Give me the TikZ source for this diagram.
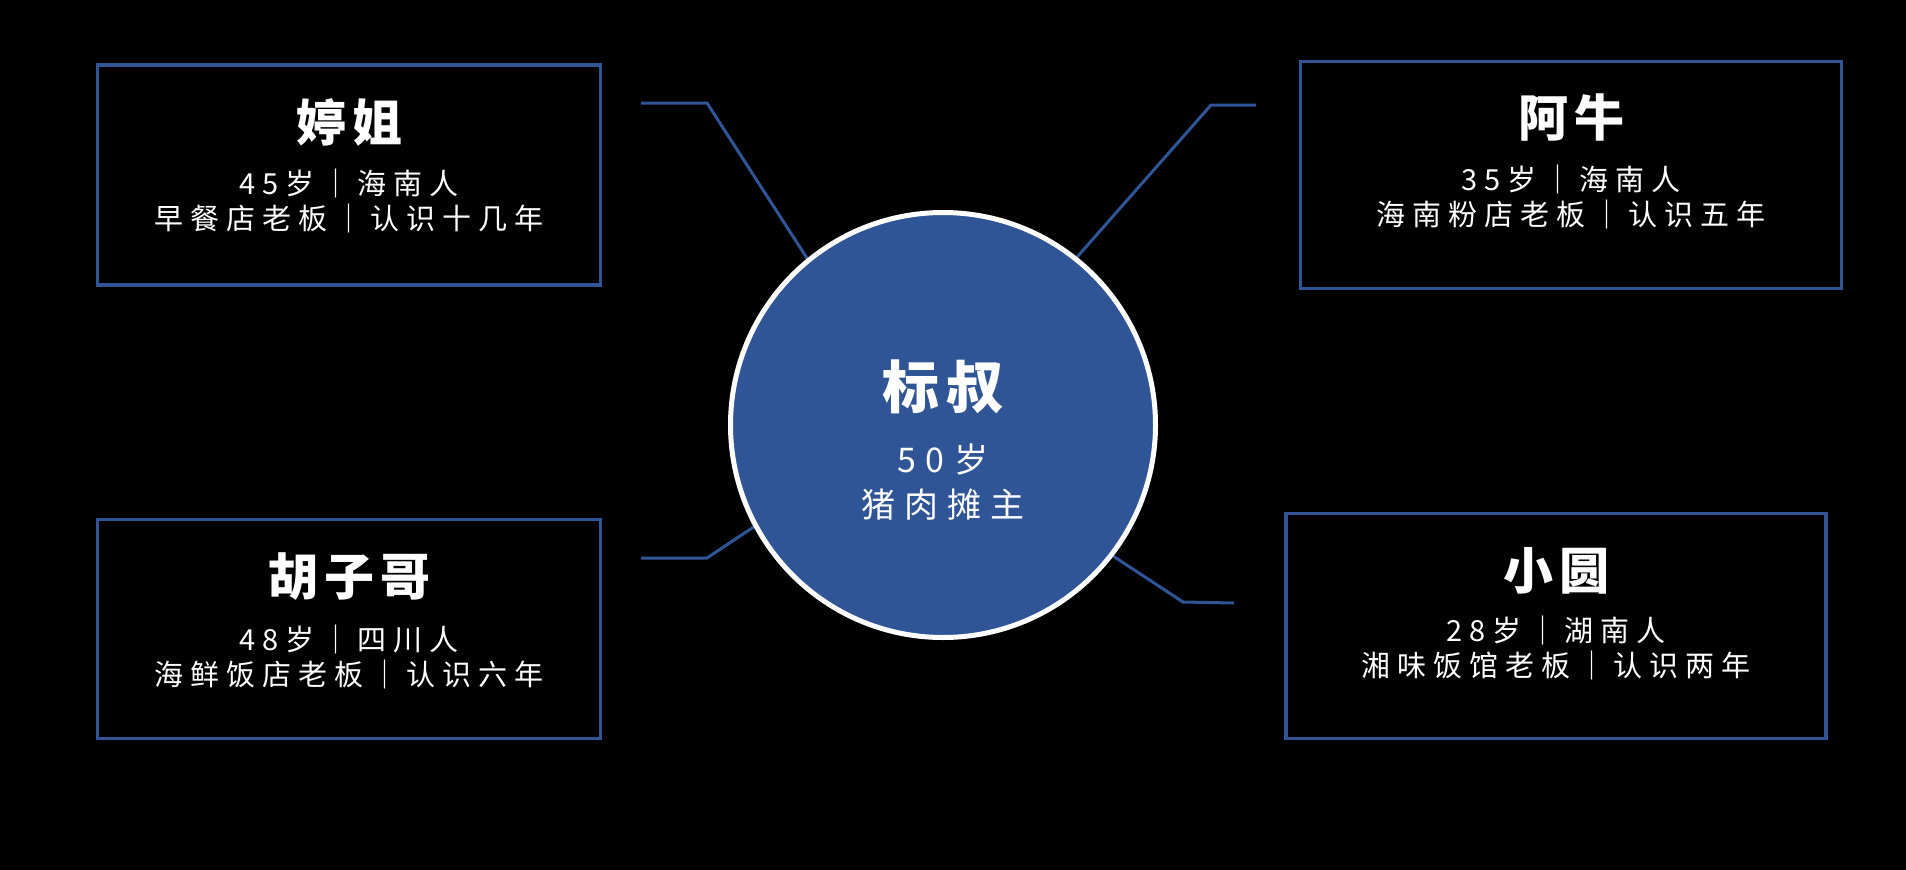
\documentclass[tikz,border=0pt]{standalone}
\usepackage{fontspec}
\usetikzlibrary{calc}
\setmainfont{Noto Sans CJK SC}
\definecolor{myblue}{RGB}{47,85,151}
\tikzset{
  card/.style={draw=myblue, line width=3.5pt, fill=black, inner sep=0pt},
  link/.style={draw=myblue, line width=3pt},
  ttl/.style={text=white, font=\bfseries\fontsize{50}{60}\selectfont\addfontfeature{LetterSpace=12}},
  sub/.style={text=white, align=center, font=\fontsize{29}{35}\selectfont\addfontfeature{LetterSpace=24}},
  cttl/.style={text=white, font=\bfseries\fontsize{57}{66}\selectfont\addfontfeature{LetterSpace=12}},
  csub/.style={text=white, align=center, font=\fontsize{34}{45}\selectfont\addfontfeature{LetterSpace=27}},
}
\begin{document}
\begin{tikzpicture}[x=1pt,y=-1pt]
\fill[black] (0,0) rectangle (1906,870);
\useasboundingbox (0,0) rectangle (1906,870);
% boxes
\node[card, minimum width=503pt, minimum height=220pt] (b1) at (349,175) {};
\node[card, minimum width=541pt, minimum height=227pt] (b2) at (1571,175) {};
\node[card, minimum width=503pt, minimum height=219pt] (b3) at (349,629) {};
\node[card, minimum width=540pt, minimum height=225pt] (b4) at (1556,626) {};
% box texts
\node[ttl] (t1) at (349,122) {婷姐};
\node[sub] (s1) at (349,201) {45岁｜海南人\\早餐店老板｜认识十几年};
\node[ttl] (t2) at (1571,118) {阿牛};
\node[sub] (s2) at (1571,197) {35岁｜海南人\\海南粉店老板｜认识五年};
\node[ttl] (t3) at (349,577) {胡子哥};
\node[sub] (s3) at (349,657) {48岁｜四川人\\海鲜饭店老板｜认识六年};
\node[ttl] (t4) at (1556,571) {小圆};
\node[sub] (s4) at (1556,648) {28岁｜湖南人\\湘味饭馆老板｜认识两年};
% connector points
\coordinate (a1) at (641,103);
\coordinate (a2) at (707,103);
\coordinate (b1p) at (1256,105);
\coordinate (b2p) at (1211,105);
\coordinate (c1) at (641,558);
\coordinate (c2) at (707,558);
\coordinate (d1) at (1234,603);
\coordinate (d2) at (1183,602);
\coordinate (cc) at (943,425);
\draw[link] (a1) -- (a2) -- ($(cc)+(129.2:215pt)$);
\draw[link] (b1p) -- (b2p) -- ($(cc)+(51.4:215pt)$);
\draw[link] (c1) -- (c2) -- ($(cc)+(208.3:215pt)$);
\draw[link] (d1) -- (d2) -- ($(cc)+(322.4:215pt)$);
% centre circle
\node[circle, fill=myblue, draw=white, line width=5pt, minimum size=425pt, inner sep=0pt] (c) at (cc) {};
\node[cttl] (ct) at (943,387) {标叔};
\node[csub] (cs) at (943,482) {50岁\\猪肉摊主};
\end{tikzpicture}
\end{document}
